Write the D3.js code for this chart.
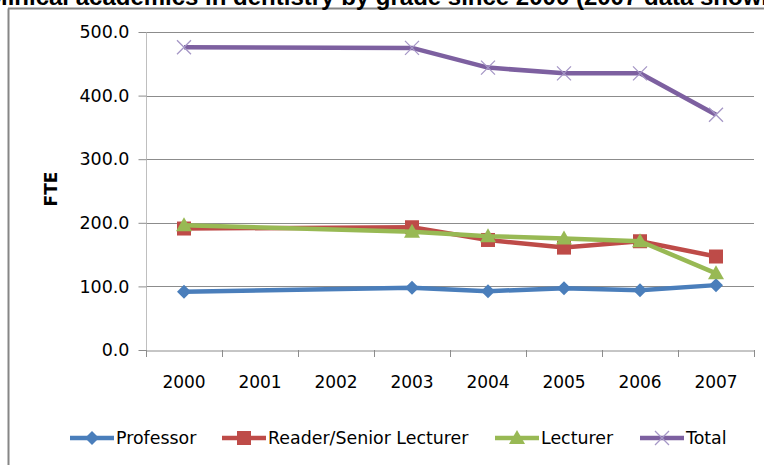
<!DOCTYPE html>
<html><head><meta charset="utf-8">
<script src="https://cdn.jsdelivr.net/npm/d3@7/dist/d3.min.js"></script>
<style>
html,body{margin:0;padding:0;background:#fff;}
svg{display:block;}
text{font-family:"DejaVu Sans",sans-serif;}
</style></head><body>
<svg id="c" width="764" height="465"></svg>
<script>
const years = ["2000","2001","2002","2003","2004","2005","2006","2007"];
const professor = [91.5, null, null, 98, 92.5, 97, 94, 102];
const reader = [191, null, null, 193, 173, 161, 171, 147];
const lecturer = [196, null, null, 186, 179, 175.5, 171, 120.5];
const total = [476, null, null, 475, 444, 435, 435, 370];
const yTicks = [0, 100, 200, 300, 400, 500];
const seriesNames = ["Professor", "Reader/Senior Lecturer", "Lecturer", "Total"];
const titleText = "Clinical academics in dentistry by grade since 2000 (2007 data shown)";

const colors = ["#4A7EBB", "#BE4B48", "#98B954", "#7D60A0"];
const markerColors = ["#4A7EBB", "#BE4B48", "#98B954", "#A597C6"];
const series = [professor, reader, lecturer, total];

const svg = d3.select("#c");
const L = 146, R = 754, T = 32, B = 350;
const FS = 17;

// outer frame
svg.append("line").attr("x1", 8.5).attr("x2", 8.5).attr("y1", 8.5).attr("y2", 465).attr("stroke", "#868686").attr("stroke-width", 2);
svg.append("line").attr("x1", 8).attr("x2", 764).attr("y1", 8.5).attr("y2", 8.5).attr("stroke", "#868686").attr("stroke-width", 2);

// title (cut off at top, as in the reference)
const tt = svg.append("text").attr("y", 5)
  .style("font-family", "'Liberation Sans', Arial, sans-serif")
  .attr("font-size", 24).attr("font-weight", "bold").attr("fill", "#000").text("C");
const cw = tt.node().getComputedTextLength();
tt.text(titleText).attr("x", 1 - cw);

const x = d3.scaleBand().domain(years).range([L, R]);
const y = d3.scaleLinear().domain([0, 500]).range([B, T]);

// gridlines
svg.append("g").selectAll("line").data(yTicks.filter(d => d > 0)).join("line")
  .attr("x1", L).attr("x2", R).attr("y1", d => Math.round(y(d)) + 0.5).attr("y2", d => Math.round(y(d)) + 0.5)
  .attr("stroke", "#8c8c8c").attr("stroke-width", 1);

// y axis
const yAxis = d3.axisLeft(y).tickValues(yTicks).tickFormat(d3.format(".1f")).tickSize(8).tickPadding(9);
const gy = svg.append("g").attr("transform", `translate(${L + 0.5},0)`).call(yAxis);
gy.select(".domain").attr("stroke", "#bfbfbf").attr("d", `M0,${T}V${B}`);
gy.selectAll(".tick line").attr("stroke", "#8c8c8c");
gy.selectAll(".tick text").attr("font-size", FS + 0.5).attr("fill", "#000").style("font-family", "'DejaVu Sans', sans-serif");

// x axis
const xAxis = d3.axisBottom(x).tickSize(0).tickPadding(25);
const gx = svg.append("g").attr("transform", `translate(0,${B + 0.5})`).call(xAxis);
gx.select(".domain").attr("stroke", "#8c8c8c");
gx.selectAll(".tick text").attr("font-size", FS).attr("fill", "#000").style("font-family", "'DejaVu Sans', sans-serif");
svg.append("g").selectAll("line").data(years.concat(["end"])).join("line")
  .attr("x1", (d, i) => Math.round(L + i * x.step()) + 0.5).attr("x2", (d, i) => Math.round(L + i * x.step()) + 0.5)
  .attr("y1", B).attr("y2", B + 7).attr("stroke", "#8c8c8c");

// y title
svg.append("text").attr("transform", `translate(57,189) rotate(-90)`).attr("text-anchor", "middle")
  .attr("font-size", FS).attr("font-weight", "bold").text("FTE");

const cx = d => x(d) + x.bandwidth() / 2;

function marker(g, type, px, py, i) {
  if (type === 0) {
    g.append("path").attr("d", `M${px},${py - 7}L${px + 7},${py}L${px},${py + 7}L${px - 7},${py}Z`).attr("fill", markerColors[i]);
  } else if (type === 1) {
    g.append("rect").attr("x", px - 7).attr("y", py - 7).attr("width", 14).attr("height", 14).attr("fill", markerColors[i]);
  } else if (type === 2) {
    g.append("path").attr("d", `M${px},${py - 8}L${px + 8},${py + 6}L${px - 8},${py + 6}Z`).attr("fill", markerColors[i]);
  } else {
    g.append("path").attr("d", `M${px - 7},${py - 7}L${px + 7},${py + 7}M${px + 7},${py - 7}L${px - 7},${py + 7}`)
      .attr("stroke", markerColors[i]).attr("stroke-width", 1.3).attr("fill", "none");
  }
}

const line = d3.line().x(d => cx(d.year)).y(d => y(d.v));
series.forEach((s, i) => {
  const pts = years.map((yr, j) => ({year: yr, v: s[j]})).filter(d => d.v != null);
  const g = svg.append("g");
  g.append("path").datum(pts).attr("d", line).attr("fill", "none").attr("stroke", colors[i])
    .attr("stroke-width", 4.5).attr("stroke-linejoin", "round");
  pts.forEach(p => marker(g, i, cx(p.year), y(p.v), i));
});

// legend
const legX = [70, 222, 495, 640];
const lg = svg.append("g");
seriesNames.forEach((n, i) => {
  const lx = legX[i], ly = 438;
  lg.append("line").attr("x1", lx).attr("x2", lx + 44).attr("y1", ly).attr("y2", ly).attr("stroke", colors[i]).attr("stroke-width", 4.5);
  marker(lg, i, lx + 22, ly, i);
  lg.append("text").attr("x", lx + 46).attr("y", ly + 6).attr("font-size", FS + 0.4).attr("fill", "#000").text(n);
});
</script>
</body></html>
